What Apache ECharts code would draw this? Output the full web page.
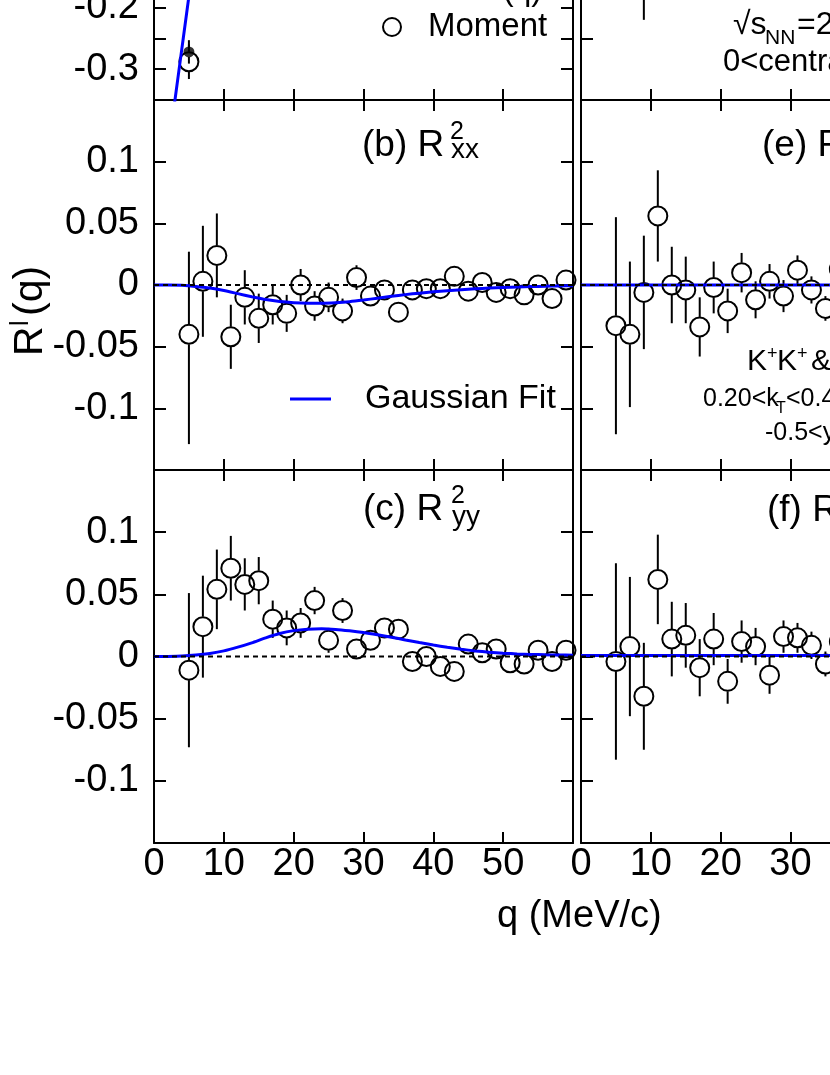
<!DOCTYPE html>
<html>
<head>
<meta charset="utf-8">
<script src="https://cdn.jsdelivr.net/npm/echarts@6/dist/echarts.min.js"></script>
<style>
  html, body { margin: 0; padding: 0; background: #fff; }
  #chart { width: 830px; height: 1075px; }
</style>
</head>
<body>
<div id="chart"></div>
<script>
  // q bins (MeV/c)
  var qPts = [5, 7, 9, 11, 13, 15, 17, 19, 21, 23, 25, 27, 29, 31, 33, 35, 37, 39, 41, 43, 45, 47, 49, 51, 53, 55, 57, 59];
  var qRight = [5, 7, 9, 11, 13, 15, 17, 19, 21, 23, 25, 27, 29, 31, 33, 35, 37];

  // (a) R(q): moment + 1D
  var qA = [5];
  var momentA = [-0.288];
  var momentAErr = [0.028];
  var oneDA = [-0.272];
  var oneDAErr = [0.019];
  var fitAQ = [2.8, 3.5, 4.2, 5.2];
  var fitA = [-0.367, -0.308, -0.249, -0.165];

  // (b) R2xx  (first point has a longer lower error)
  var rxx = [-0.040, 0.003, 0.024, -0.042, -0.010, -0.027, -0.016, -0.023, 0.000, -0.017, -0.010, -0.021, 0.006, -0.009,
             -0.004, -0.022, -0.004, -0.003, -0.003, 0.007, -0.005, 0.002, -0.006, -0.003, -0.008, 0.000, -0.011, 0.004];
  var rxxErr = [0.067, 0.045, 0.034, 0.026, 0.022, 0.020, 0.016, 0.015, 0.013, 0.012, 0.012, 0.010, 0.010, 0.008,
                0.007, 0.006, 0.006, 0.005, 0.005, 0.005, 0.004, 0.004, 0.004, 0.004, 0.004, 0.003, 0.003, 0.003];
  var rxxErrLo = [0.089, 0.045, 0.034, 0.026, 0.022, 0.020, 0.016, 0.015, 0.013, 0.012, 0.012, 0.010, 0.010, 0.008,
                  0.007, 0.006, 0.006, 0.005, 0.005, 0.005, 0.004, 0.004, 0.004, 0.004, 0.004, 0.003, 0.003, 0.003];

  // (c) R2yy
  var ryy = [-0.011, 0.024, 0.054, 0.071, 0.058, 0.061, 0.030, 0.023, 0.027, 0.045, 0.013, 0.037, 0.006, 0.013,
             0.023, 0.022, -0.004, 0.000, -0.008, -0.012, 0.010, 0.003, 0.006, -0.005, -0.006, 0.005, -0.004, 0.005];
  var ryyErr = [0.062, 0.041, 0.032, 0.026, 0.021, 0.019, 0.015, 0.014, 0.012, 0.011, 0.010, 0.010, 0.008, 0.007,
                0.007, 0.006, 0.006, 0.005, 0.005, 0.005, 0.004, 0.004, 0.004, 0.004, 0.004, 0.003, 0.003, 0.003];

  // (d) only one error bar reaches into view
  var qD = [9];
  var rd = [-0.09];
  var rdErr = [0.08];

  // (e)
  var re = [-0.033, -0.040, -0.006, 0.056, 0.000, -0.004, -0.034, -0.002, -0.021, 0.010, -0.012, 0.003, -0.009, 0.012, -0.004, -0.019, 0.013];
  var reErr = [0.088, 0.059, 0.046, 0.037, 0.031, 0.027, 0.024, 0.021, 0.018, 0.016, 0.015, 0.014, 0.013, 0.012, 0.011, 0.010, 0.009];

  // (f)
  var rf = [-0.004, 0.008, -0.032, 0.062, 0.014, 0.017, -0.009, 0.014, -0.020, 0.012, 0.008, -0.015, 0.016, 0.015, 0.009, -0.006, 0.012];
  var rfErr = [0.079, 0.056, 0.043, 0.036, 0.030, 0.026, 0.023, 0.021, 0.018, 0.017, 0.015, 0.015, 0.013, 0.012, 0.011, 0.010, 0.009];

  // gaussian fits
  var fitQ = [0, 2, 4, 6, 8, 10, 12, 14, 16, 18, 20, 22, 24, 26, 28, 30, 32, 34, 36, 38, 40, 42, 44, 46, 48, 50, 52, 54, 56, 58, 60];
  var fitXX = [0, 0, -0.0003, -0.0012, -0.0025, -0.0045, -0.0070, -0.0095, -0.0118, -0.0134, -0.0143, -0.0147, -0.0147, -0.0143, -0.0135, -0.0122,
               -0.0107, -0.0092, -0.0078, -0.0066, -0.0055, -0.0046, -0.0038, -0.0031, -0.0025, -0.0020, -0.0016, -0.0013, -0.0010, -0.0008, -0.0006];
  var fitYY = [0, 0.0001, 0.0004, 0.0012, 0.0025, 0.0045, 0.0075, 0.0110, 0.0150, 0.0185, 0.0208, 0.0220, 0.0223, 0.0218, 0.0207, 0.0193,
               0.0175, 0.0155, 0.0133, 0.0112, 0.0092, 0.0074, 0.0058, 0.0045, 0.0035, 0.0027, 0.0021, 0.0017, 0.0014, 0.0012, 0.0011];
  var flatQ = [0, 60];
  var fitE = [0, 0];
  var fitF = [0.0008, 0.0008];
  var zeroLine = [0, 0];

  var FONT = '"Liberation Sans", Arial, Helvetica, sans-serif';
  var BLUE = '#0000ff';

  var panels = [
    { left: 154, top: -270, height: 370, min: -0.35, max: 0.25, step: 0.05, yLabels: true, xLabels: false, onlyTenths: true },
    { left: 154, top: 100, height: 370, min: -0.15, max: 0.15, step: 0.05, yLabels: true, xLabels: false },
    { left: 154, top: 470, height: 373, min: -0.15, max: 0.15, step: 0.05, yLabels: true, xLabels: true },
    { left: 581, top: -270, height: 370, min: -0.3, max: 0.3, step: 0.1, yLabels: false, xLabels: false },
    { left: 581, top: 100, height: 370, min: -0.15, max: 0.15, step: 0.05, yLabels: false, xLabels: false },
    { left: 581, top: 470, height: 373, min: -0.15, max: 0.15, step: 0.05, yLabels: false, xLabels: true }
  ];

  var grids = [], xAxes = [], yAxes = [], series = [];

  panels.forEach(function(p, i) {
    grids.push({ left: p.left, top: p.top, width: 419, height: p.height, show: false, containLabel: false, outerBoundsMode: 'none' });
    ['bottom', 'top'].forEach(function(pos) {
      var lab = pos === 'bottom' && p.xLabels;
      xAxes.push({
        type: 'value', gridIndex: i, position: pos, min: 0, max: 60, interval: 10,
        axisLine: { show: true, onZero: false, lineStyle: { color: '#000', width: 2 } },
        axisTick: { show: true, inside: true, length: 11, lineStyle: { color: '#000', width: 2 } },
        axisLabel: {
          show: lab, margin: 3, fontSize: 38, fontFamily: FONT, color: '#000',
          formatter: function(v) { return (p.left < 300 && v >= 60) ? '' : String(v); }
        },
        splitLine: { show: false }
      });
    });
    ['left', 'right'].forEach(function(pos) {
      var lab = pos === 'left' && p.yLabels;
      yAxes.push({
        type: 'value', gridIndex: i, position: pos, min: p.min, max: p.max, interval: p.step,
        axisLine: { show: true, onZero: false, lineStyle: { color: '#000', width: 2 } },
        axisTick: { show: true, inside: true, length: 12, lineStyle: { color: '#000', width: 2 } },
        axisLabel: {
          show: lab, margin: 15, fontSize: 38, fontFamily: FONT, color: '#000',
          showMinLabel: false, showMaxLabel: false,
          formatter: function(v) {
            var r = parseFloat(v.toFixed(3));
            if (p.onlyTenths && Math.abs(r * 10 - Math.round(r * 10)) > 1e-6) return '';
            return String(r);
          }
        },
        splitLine: { show: false }
      });
    });
  });

  // error bars, drawn outside the marker (r = marker radius in px)
  function errSeries(pi, q, v, eHi, eLo, r) {
    return {
      type: 'custom', name: 'err', xAxisIndex: pi * 2, yAxisIndex: pi * 2, clip: true, z: 2,
      data: q.map(function(x, k) { return [x, v[k] - eLo[k], v[k] + eHi[k], v[k]]; }),
      renderItem: function(params, api) {
        var x = api.value(0);
        var lo = api.coord([x, api.value(1)]);
        var hi = api.coord([x, api.value(2)]);
        var c = api.coord([x, api.value(3)]);
        var kids = [];
        var st = { stroke: '#000', lineWidth: 2 };
        if (hi[1] < c[1] - r) kids.push({ type: 'line', shape: { x1: c[0], y1: hi[1], x2: c[0], y2: c[1] - r }, style: st });
        if (lo[1] > c[1] + r) kids.push({ type: 'line', shape: { x1: c[0], y1: c[1] + r, x2: c[0], y2: lo[1] }, style: st });
        return { type: 'group', children: kids };
      }
    };
  }
  function moment(pi, q, v) {
    return {
      type: 'scatter', name: 'Moment', xAxisIndex: pi * 2, yAxisIndex: pi * 2, z: 3,
      symbol: 'circle', symbolSize: 19,
      itemStyle: { color: 'rgba(0,0,0,0)', borderColor: '#000', borderWidth: 2, opacity: 1 },
      data: q.map(function(x, k) { return [x, v[k]]; })
    };
  }
  function fit(pi, q, v) {
    return {
      type: 'line', name: 'Gaussian Fit', xAxisIndex: pi * 2, yAxisIndex: pi * 2, z: 4,
      symbol: 'none', smooth: 0.2, lineStyle: { color: BLUE, width: 3 },
      data: q.map(function(x, k) { return [x, v[k]]; })
    };
  }
  function zero(pi) {
    return {
      type: 'line', name: 'zero', xAxisIndex: pi * 2, yAxisIndex: pi * 2, z: 5,
      symbol: 'none', lineStyle: { color: '#000', width: 2, type: [5, 4] },
      data: flatQ.map(function(x, k) { return [x, zeroLine[k]]; })
    };
  }

  // (a)
  series.push(errSeries(0, qA, momentA, momentAErr, momentAErr, 10));
  series.push(errSeries(0, qA, oneDA, oneDAErr, oneDAErr, 5));
  series.push(moment(0, qA, momentA));
  series.push({
    type: 'scatter', name: '1D R(q)', xAxisIndex: 0, yAxisIndex: 0, z: 3,
    symbol: 'circle', symbolSize: 11, itemStyle: { color: '#000' },
    data: qA.map(function(x, k) { return [x, oneDA[k]]; })
  });
  series.push(fit(0, fitAQ, fitA));
  // (b)
  series.push(errSeries(1, qPts, rxx, rxxErr, rxxErrLo, 10));
  series.push(moment(1, qPts, rxx));
  series.push(fit(1, fitQ, fitXX));
  series.push(zero(1));
  // (c)
  series.push(errSeries(2, qPts, ryy, ryyErr, ryyErr, 10));
  series.push(moment(2, qPts, ryy));
  series.push(fit(2, fitQ, fitYY));
  series.push(zero(2));
  // (d)
  series.push(errSeries(3, qD, rd, rdErr, rdErr, 10));
  series.push(moment(3, qD, rd));
  // (e)
  series.push(errSeries(4, qRight, re, reErr, reErr, 10));
  series.push(moment(4, qRight, re));
  series.push(fit(4, flatQ, fitE));
  series.push(zero(4));
  // (f)
  series.push(errSeries(5, qRight, rf, rfErr, rfErr, 10));
  series.push(moment(5, qRight, rf));
  series.push(fit(5, flatQ, fitF));
  series.push(zero(5));

  // text helper: x, baseline, size
  function T(x, base, size, str) {
    return {
      type: 'text', x: x, y: base - 0.35 * size, z: 10,
      style: { text: str, fontSize: size, fontFamily: FONT, fill: '#000', align: 'left', verticalAlign: 'middle' }
    };
  }

  var texts = [
    // panel titles
    T(362, 159, 37, '(b) R'), T(450, 141, 25, '2'), T(451, 160, 28, 'xx'),
    T(363, 523, 37, '(c) R'), T(451, 505, 25, '2'), T(452, 527, 28, 'yy'),
    T(762, 159, 37, '(e) R'), T(850, 141, 25, '2'), T(851, 160, 28, 'xy'),
    T(767, 524, 37, '(f) R'), T(850, 506, 25, '2'), T(851, 525, 28, 'xz'),
    // legend (a)
    T(430, 2, 32, '1D R(q)'),
    T(428, 38, 33, 'Moment'),
    { type: 'circle', z: 10, shape: { cx: 392, cy: 27, r: 9 }, style: { fill: 'none', stroke: '#000', lineWidth: 2 } },
    { type: 'circle', z: 10, shape: { cx: 392, cy: -12, r: 5 }, style: { fill: '#000' } },
    // legend fit
    { type: 'line', z: 10, shape: { x1: 290, y1: 399, x2: 331, y2: 399 }, style: { stroke: BLUE, lineWidth: 3 } },
    T(365, 411, 34, 'Gaussian Fit'),
    // (d) annotation
    T(733, 36, 32, '\u221As'), T(765, 46, 21, 'NN'), T(797, 36, 32, '=200 GeV'),
    T(723, 73, 31, '0<centrality<30%'),
    // (e) annotation
    T(747, 372, 30, 'K'), T(767, 360, 18, '+'), T(777, 372, 30, 'K'), T(797, 360, 18, '+'), T(811, 372, 30, '& K'),
    T(703, 408, 25, '0.20<k'), T(776, 414, 16, 'T'), T(786, 408, 25, '<0.40 GeV/c'),
    T(765, 442, 25, '-0.5<y<0.5'),
    // axis titles
    T(497, 930, 38, 'q (MeV/c)'),
    {
      type: 'group', x: 45, y: 356, rotation: Math.PI / 2, z: 10,
      children: [T(0, 0, 41, 'R'), T(30, -15, 25, 'l'), T(40, 0, 41, '(q)')]
    }
  ];

  var chart = echarts.init(document.getElementById('chart'), null, { renderer: 'canvas' });
  chart.setOption({
    animation: false,
    backgroundColor: '#fff',
    grid: grids,
    xAxis: xAxes,
    yAxis: yAxes,
    series: series,
    graphic: { elements: texts }
  });
</script>
</body>
</html>
